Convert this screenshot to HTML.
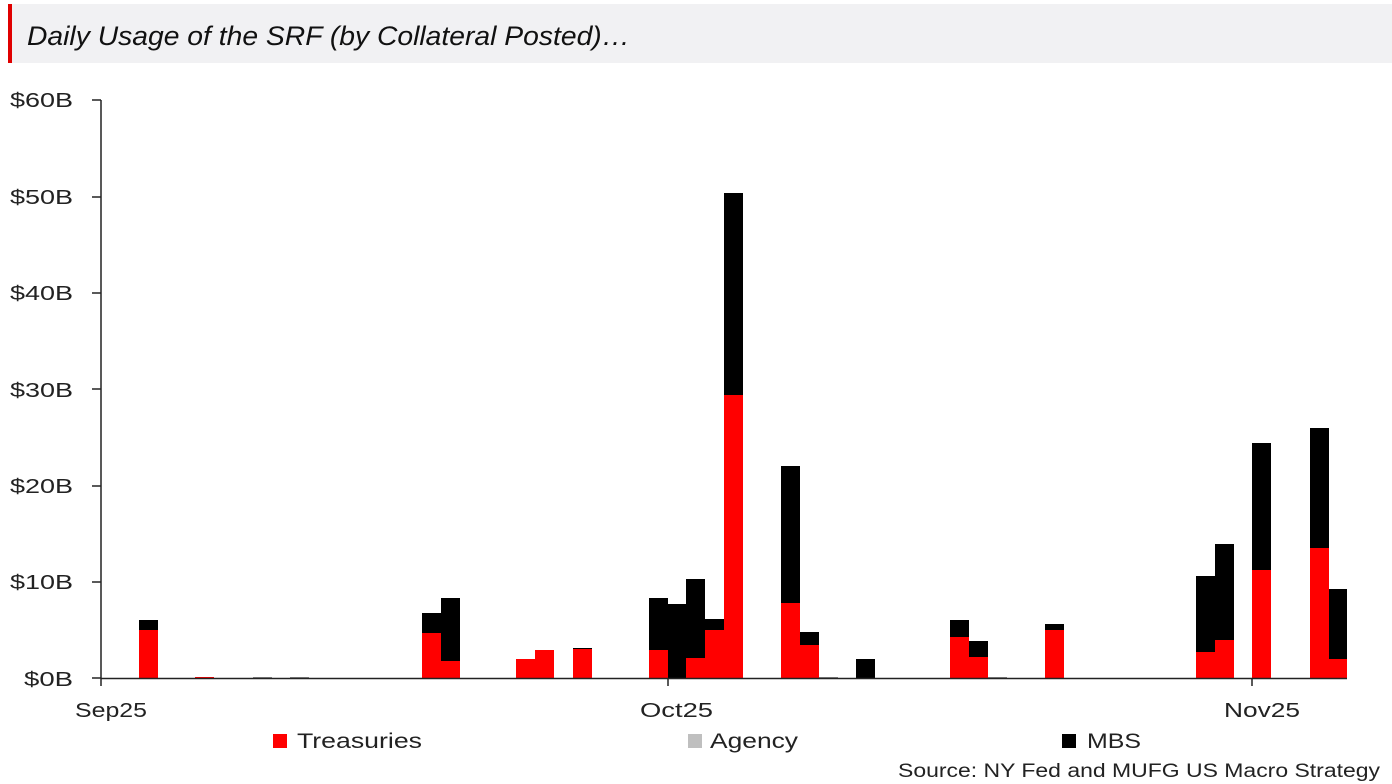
<!DOCTYPE html>
<html><head><meta charset="utf-8"><style>
body{margin:0;background:#fff;width:1392px;height:784px;overflow:hidden}
svg{display:block}
text{font-family:"Liberation Sans",sans-serif}
</style></head><body>
<svg width="1392" height="784" viewBox="0 0 1392 784">
<rect x="8" y="4" width="1384" height="59" fill="#f1f1f3"/>
<rect x="8" y="4" width="4" height="59" fill="#e00000"/>
<text x="27" y="45" font-size="27" font-style="italic" fill="#111" textLength="603" lengthAdjust="spacingAndGlyphs">Daily Usage of the SRF (by Collateral Posted)…</text>
<g font-size="20" fill="#222">
<text x="10" y="107" textLength="63" lengthAdjust="spacingAndGlyphs">$60B</text>
<text x="10" y="204" textLength="63" lengthAdjust="spacingAndGlyphs">$50B</text>
<text x="10" y="300" textLength="63" lengthAdjust="spacingAndGlyphs">$40B</text>
<text x="10" y="397" textLength="63" lengthAdjust="spacingAndGlyphs">$30B</text>
<text x="10" y="493" textLength="63" lengthAdjust="spacingAndGlyphs">$20B</text>
<text x="10" y="589" textLength="63" lengthAdjust="spacingAndGlyphs">$10B</text>
<text x="24" y="686" textLength="49" lengthAdjust="spacingAndGlyphs">$0B</text>
</g>
<g stroke="#222" stroke-width="1.5">
<line x1="101" y1="100" x2="101" y2="678"/>
<line x1="92" y1="100" x2="101" y2="100"/><line x1="92" y1="197" x2="101" y2="197"/><line x1="92" y1="293" x2="101" y2="293"/>
<line x1="92" y1="389" x2="101" y2="389"/><line x1="92" y1="486" x2="101" y2="486"/><line x1="92" y1="582" x2="101" y2="582"/><line x1="92" y1="678" x2="101" y2="678"/>
<line x1="668" y1="678" x2="668" y2="686"/><line x1="1252" y1="678" x2="1252" y2="686"/><line x1="101" y1="678" x2="101" y2="686"/>
</g>
<g fill="#000">
<rect x="139" y="620" width="19" height="58"/>
<rect x="422" y="613" width="19" height="65"/>
<rect x="441" y="598" width="19" height="80"/>
<rect x="573" y="648" width="19" height="30"/>
<rect x="649" y="598" width="19" height="80"/>
<rect x="668" y="604" width="19" height="74"/>
<rect x="686" y="579" width="19" height="99"/>
<rect x="705" y="619" width="19" height="59"/>
<rect x="724" y="193" width="19" height="485"/>
<rect x="781" y="466" width="19" height="212"/>
<rect x="800" y="632" width="19" height="46"/>
<rect x="856" y="659" width="19" height="19"/>
<rect x="950" y="620" width="19" height="58"/>
<rect x="969" y="641" width="19" height="37"/>
<rect x="1045" y="624" width="19" height="54"/>
<rect x="1196" y="576" width="19" height="102"/>
<rect x="1215" y="544" width="19" height="134"/>
<rect x="1252" y="443" width="19" height="235"/>
<rect x="1310" y="428" width="19" height="250"/>
<rect x="1328" y="589" width="19" height="89"/>
</g>
<g fill="#ff0000">
<rect x="139" y="630" width="19" height="48"/>
<rect x="195" y="677" width="19" height="1"/>
<rect x="422" y="633" width="19" height="45"/>
<rect x="441" y="661" width="19" height="17"/>
<rect x="516" y="659" width="19" height="19"/>
<rect x="535" y="650" width="19" height="28"/>
<rect x="573" y="649" width="19" height="29"/>
<rect x="649" y="650" width="19" height="28"/>
<rect x="686" y="658" width="19" height="20"/>
<rect x="705" y="630" width="19" height="48"/>
<rect x="724" y="395" width="19" height="283"/>
<rect x="781" y="603" width="19" height="75"/>
<rect x="800" y="645" width="19" height="33"/>
<rect x="950" y="637" width="19" height="41"/>
<rect x="969" y="657" width="19" height="21"/>
<rect x="1045" y="630" width="19" height="48"/>
<rect x="1196" y="652" width="19" height="26"/>
<rect x="1215" y="640" width="19" height="38"/>
<rect x="1252" y="570" width="19" height="108"/>
<rect x="1310" y="548" width="19" height="130"/>
<rect x="1328" y="659" width="19" height="19"/>
</g>
<g fill="#888">
<rect x="253" y="677" width="19" height="1"/><rect x="290" y="677" width="19" height="1"/>
<rect x="819" y="677" width="19" height="1"/><rect x="988" y="677" width="19" height="1"/>
</g>
<line x1="101" y1="678.5" x2="1347" y2="678.5" stroke="#222" stroke-width="1.5"/>
<g font-size="20" fill="#222">
<text x="75" y="717" textLength="72" lengthAdjust="spacingAndGlyphs">Sep25</text>
<text x="640" y="717" textLength="73" lengthAdjust="spacingAndGlyphs">Oct25</text>
<text x="1224" y="717" textLength="76" lengthAdjust="spacingAndGlyphs">Nov25</text>
</g>
<g font-size="21" fill="#222">
<rect x="273" y="734" width="14" height="14" fill="#ff0000"/><text x="297" y="748" textLength="125" lengthAdjust="spacingAndGlyphs">Treasuries</text>
<rect x="688" y="734" width="14" height="14" fill="#bfbfbf"/><text x="710" y="748" textLength="88" lengthAdjust="spacingAndGlyphs">Agency</text>
<rect x="1062" y="734" width="14" height="14" fill="#000"/><text x="1087" y="748" textLength="54" lengthAdjust="spacingAndGlyphs">MBS</text>
</g>
<text x="898" y="777" font-size="19" fill="#222" textLength="482" lengthAdjust="spacingAndGlyphs">Source: NY Fed and MUFG US Macro Strategy</text>
</svg>
</body></html>
